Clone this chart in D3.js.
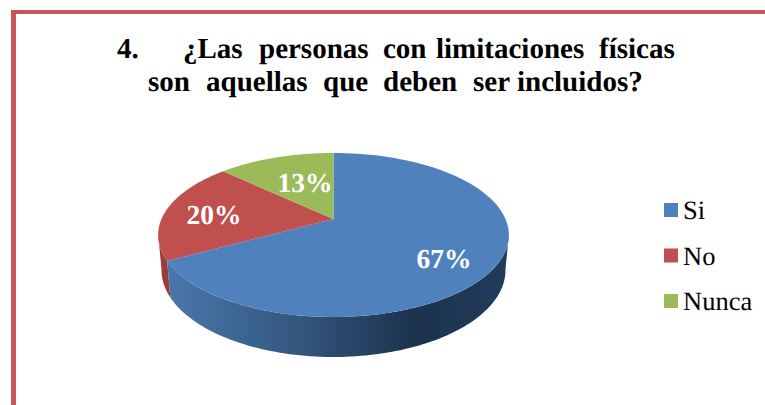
<!DOCTYPE html>
<html><head><meta charset="utf-8">
<script src="https://cdn.jsdelivr.net/npm/d3@7"></script>
<style>html,body{margin:0;padding:0;background:#fff}svg{display:block}text{font-family:"Liberation Serif",serif;text-rendering:geometricPrecision}</style>
</head><body><svg width="765" height="405"></svg>
<script>
const categories = ["Si","No","Nunca"];
const values = [67,20,13];
const labels = ["67%","20%","13%"];
const colors = ["#4f81bd","#c0504d","#9bbb59"];
const titleLine1 = [["4.",117],["¿Las",183],["personas",259],["con",383],["limitaciones",436],["físicas",599]];
const titleLine2 = [["son",148],["aquellas",206],["que",323],["deben",383],["ser",473],["incluidos?",517]];

const svg = d3.select("svg");
const defs = svg.append("defs");
const g1 = defs.append("linearGradient").attr("id","side").attr("gradientUnits","userSpaceOnUse")
  .attr("x1",165).attr("x2",510).attr("y1",0).attr("y2",0);
[[0,"#4a78ab"],[0.35,"#365a84"],[0.72,"#1c324d"],[1,"#213c5c"]].forEach(s=>g1.append("stop").attr("offset",s[0]).attr("stop-color",s[1]));

svg.append("rect").attr("x",11).attr("y",10).attr("width",754).attr("height",4).attr("fill","#c9565a");
svg.append("rect").attr("x",11).attr("y",10).attr("width",5).attr("height",395).attr("fill","#c9565a");

const k=-0.195, CX=333.5;
const proj=(a,f)=>{const u=Math.sin(a),v=-Math.cos(a),w=1/(1+k*v);return [CX+f.rx*u*w,f.cy+f.ry*v*w];};
const topFace={rx:172,ry:78.9,cy:219}, lowFace={rx:168.7,ry:83.7,cy:253};
const line=d3.line();
const pie=d3.pie().sort(null)(values);
const arcPts=(a0,a1,f)=>d3.range(0,101).map(i=>proj(a0+(a1-a0)*i/100,f));
const quarterTurn=Math.PI*0.56;

// sides
const wall=(a0,a1,fill)=>{const t=arcPts(a0,a1,topFace),b=arcPts(a0,a1,lowFace).reverse();
  svg.append("path").attr("d",line(t.concat(b))+"Z").attr("fill",fill);};
wall(pie[1].startAngle,2*Math.PI-quarterTurn,"#9c3d3a");
wall(quarterTurn,pie[0].endAngle,"url(#side)");

// top
pie.forEach((p,i)=>{
  svg.append("path").attr("d",line([[CX,topFace.cy]].concat(arcPts(p.startAngle,p.endAngle,topFace)))+"Z").attr("fill",colors[i]);
});

const lp=[[444,268],[214,224],[305,192]];
labels.forEach((t,i)=>svg.append("text").attr("x",lp[i][0]).attr("y",lp[i][1]).attr("text-anchor","middle")
  .attr("font-size",27.5).attr("font-weight","bold").attr("fill","#fff").text(t));

titleLine1.forEach(d=>svg.append("text").attr("x",d[1]).attr("y",58).attr("font-size",29).attr("font-weight","bold").attr("fill","#000").text(d[0]));
titleLine2.forEach(d=>svg.append("text").attr("x",d[1]).attr("y",91).attr("font-size",29).attr("font-weight","bold").attr("fill","#000").text(d[0]));

categories.forEach((c,i)=>{
  const y=203+i*45.5;
  svg.append("rect").attr("x",664).attr("y",y).attr("width",14).attr("height",14).attr("fill",colors[i]);
  svg.append("text").attr("x",683).attr("y",y+16).attr("font-size",26.5).attr("fill","#000").text(c);
});
</script></body></html>
